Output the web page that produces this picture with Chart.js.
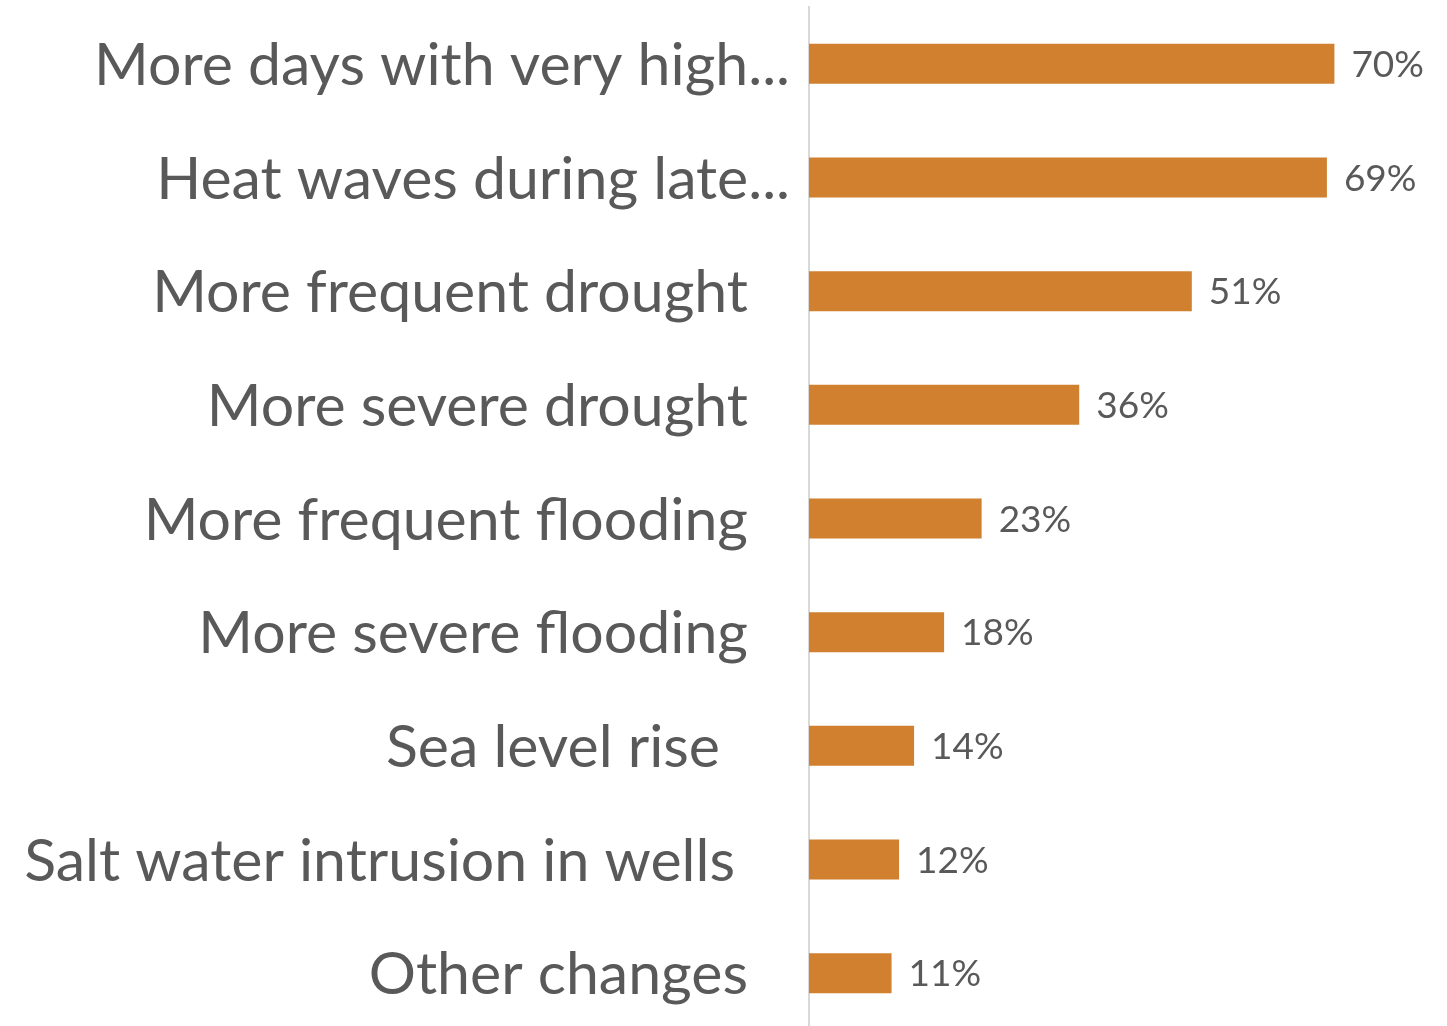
<!DOCTYPE html>
<html>
<head>
<meta charset="utf-8">
<script src="https://cdn.jsdelivr.net/npm/chart.js@4.4.1/dist/chart.umd.min.js"></script>
<style>
  html, body { margin: 0; padding: 0; background: #ffffff; overflow: hidden; }
  #wrap { width: 1447px; height: 1030px; }
</style>
</head>
<body>
<div id="wrap"><canvas id="changesChart"></canvas></div>
<script>
// ===== DATA =====
const categories = [
    'More days with very high...',
    'Heat waves during late...',
    'More frequent drought',
    'More severe drought',
    'More frequent flooding',
    'More severe flooding',
    'Sea level rise',
    'Salt water intrusion in wells',
    'Other changes'
];
const percentValues = [70, 69, 51, 36, 23, 18, 14, 12, 11];

// ===== STYLE =====
const barColor = '#D0802F';
const textColor = '#595959';
const labelSize = 59;
const valueSize = 37;
// distance from axis line to the right end of each category label
const labelGaps = [19, 19, 61, 61, 61, 61, 89, 74, 61];

const ctx = document.getElementById('changesChart');

// draws category labels and value labels next to the bars
const labelPlugin = {
    id: 'barLabels',
    afterDatasetsDraw(chart) {
        const c = chart.ctx;
        const yScale = chart.scales.y;
        const left = chart.chartArea.left;
        c.save();
        c.fillStyle = textColor;
        c.textBaseline = 'alphabetic';

        c.font = labelSize + 'px Lato';
        c.textAlign = 'right';
        categories.forEach((name, i) => {
            const y = yScale.getPixelForValue(i);
            c.fillText(name, left - labelGaps[i], y + 0.36 * labelSize);
        });

        c.font = valueSize + 'px Lato';
        c.textAlign = 'left';
        const meta = chart.getDatasetMeta(0);
        meta.data.forEach((bar, i) => {
            c.fillText(percentValues[i] + '%', bar.x + 17, bar.y + 0.36 * valueSize);
        });
        c.restore();
    }
};

new Chart(ctx, {
    type: 'bar',
    data: {
        labels: categories,
        datasets: [{
            data: percentValues,
            backgroundColor: barColor,
            borderWidth: 0,
            barPercentage: 0.352,
            categoryPercentage: 1
        }]
    },
    options: {
        indexAxis: 'y',
        responsive: true,
        maintainAspectRatio: false,
        animation: false,
        layout: { padding: { top: 7, right: 0, bottom: 0, left: 0 } },
        plugins: {
            legend: { display: false },
            tooltip: { enabled: false }
        },
        scales: {
            x: {
                display: false,
                min: 0,
                max: 85
            },
            y: {
                grid: { display: false },
                border: { display: true, color: '#D9D9D9', width: 2 },
                ticks: { display: false },
                afterFit(scale) { scale.width = 809; }
            }
        }
    },
    plugins: [labelPlugin]
});
</script>
</body>
</html>
